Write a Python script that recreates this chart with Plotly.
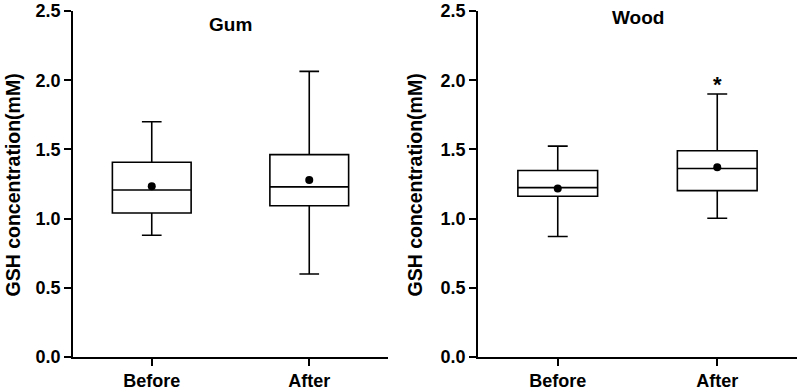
import plotly.graph_objects as go

categories = ["Before", "After"]

# Gum panel statistics
gum_low = [0.88, 0.60]
gum_q1 = [1.04, 1.093]
gum_median = [1.207, 1.229]
gum_q3 = [1.407, 1.462]
gum_high = [1.70, 2.064]
gum_mean = [1.233, 1.279]

# Wood panel statistics
wood_low = [0.871, 1.002]
wood_q1 = [1.162, 1.202]
wood_median = [1.224, 1.362]
wood_q3 = [1.348, 1.49]
wood_high = [1.524, 1.90]
wood_mean = [1.217, 1.371]

panel_titles = ["Gum", "Wood"]
y_title = "GSH concentration(mM)"
y_ticks = [0.0, 0.5, 1.0, 1.5, 2.0, 2.5]

FONT = "Liberation Sans, Arial, sans-serif"

fig = go.Figure()

panels = [
    ("x", "y", gum_low, gum_q1, gum_median, gum_q3, gum_high, gum_mean),
    ("x2", "y2", wood_low, wood_q1, wood_median, wood_q3, wood_high, wood_mean),
]
for xa, ya, lo, q1, med, q3, hi, mn in panels:
    fig.add_trace(go.Box(
        x=categories, lowerfence=lo, q1=q1, median=med, q3=q3, upperfence=hi,
        xaxis=xa, yaxis=ya, width=0.5, whiskerwidth=0.25,
        fillcolor="white", line=dict(color="black", width=1.6),
        boxpoints=False, showlegend=False, hoverinfo="skip",
    ))
    fig.add_trace(go.Scatter(
        x=categories, y=mn, xaxis=xa, yaxis=ya, mode="markers",
        marker=dict(color="black", size=8), showlegend=False, hoverinfo="skip",
    ))

axis_common = dict(
    showline=True, linecolor="black", linewidth=1.6, ticks="outside",
    tickcolor="black", tickwidth=1.6, ticklen=7, showgrid=False, zeroline=False,
    ticklabeloverflow="allow",
    tickfont=dict(family=FONT, size=18, color="black", weight="bold"),
)

fig.update_layout(
    width=800, height=391, plot_bgcolor="white", paper_bgcolor="white",
    margin=dict(l=0, r=0, t=11, b=30),
    xaxis=dict(domain=[73 / 800, 388 / 800], type="category", range=[-0.5, 1.5],
               anchor="y", **axis_common),
    yaxis=dict(domain=[0, 1], range=[0, 2.5], tickvals=y_ticks,
               tickformat=".1f", anchor="x", **axis_common),
    xaxis2=dict(domain=[478 / 800, 797 / 800], type="category", range=[-0.5, 1.5],
                anchor="y2", **axis_common),
    yaxis2=dict(domain=[0, 1], range=[0, 2.5], tickvals=y_ticks,
                tickformat=".1f", anchor="x2", **axis_common),
)

title_font = dict(family=FONT, size=19.5, color="black", weight="bold")
for xp in (13 / 800, 415 / 800):
    fig.add_annotation(x=xp, y=0.4957, xref="paper", yref="paper", text=y_title,
                       xanchor="center", yanchor="middle",
                       textangle=-90, showarrow=False, font=title_font)

fig.add_annotation(x=0.5, y=2.4, xref="x", yref="y", text=panel_titles[0],
                   showarrow=False, font=dict(family=FONT, size=19, color="black", weight="bold"))
fig.add_annotation(x=0.5, y=2.45, xref="x2", yref="y2", text=panel_titles[1],
                   showarrow=False, font=dict(family=FONT, size=19, color="black", weight="bold"))
fig.add_annotation(x="After", y=1.97, xref="x2", yref="y2", text="*",
                   showarrow=False, font=dict(family=FONT, size=22, color="black", weight="bold"))

fig.write_html("out.html", config={"displayModeBar": False},
               post_script="document.body.style.margin='0';")
